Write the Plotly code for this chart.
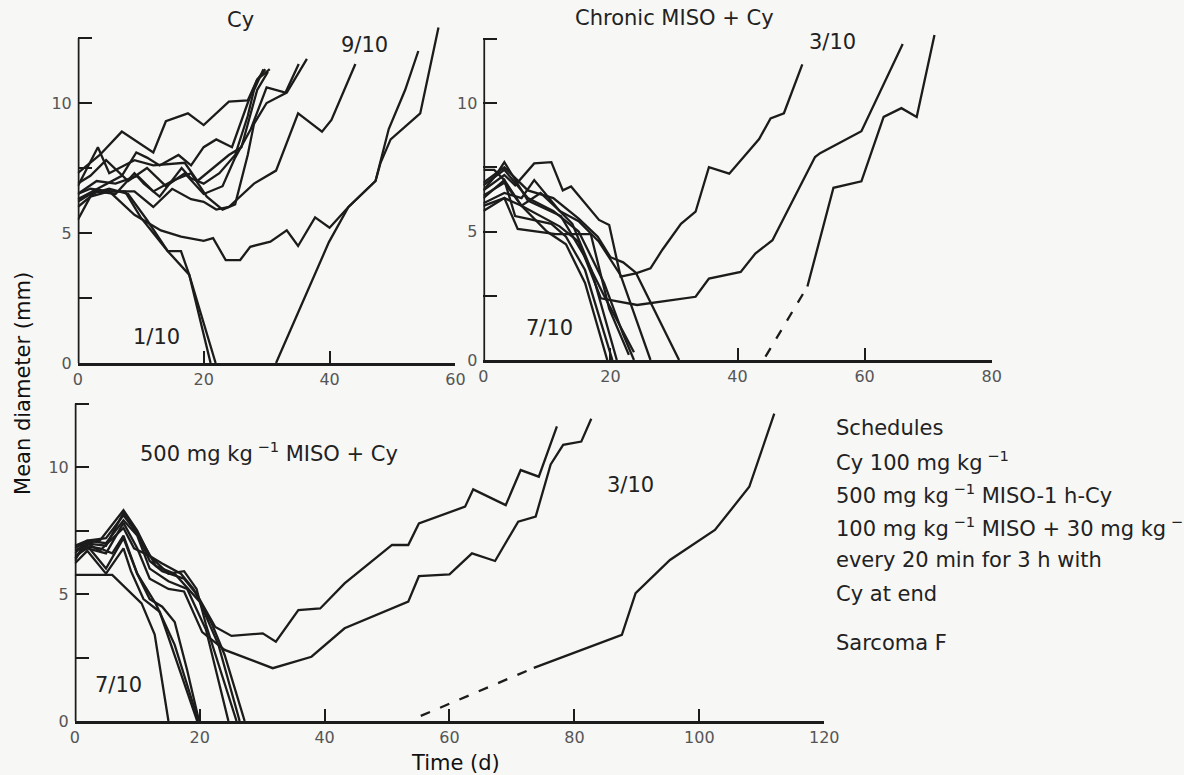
import plotly.graph_objects as go

# reference coordinate frame (positions below are given in this frame)
W, H = 1184, 775
# the capture shrinks the page slightly; render the figure at a matching larger size
FIG_W, FIG_H = 1200, 785

# ---------------- data (days, mean diameter mm) ----------------
# Panel 1: Cy alone
cy_x = [
    [0, 3.5, 7, 12, 14, 17.5, 20, 24, 27, 28.5, 29.8],
    [0, 3.2, 5, 9, 12, 17, 19, 21, 24, 26, 28.5, 30.2],
    [0, 4, 7, 9.3, 11, 13, 16, 18, 20, 22, 24.5, 27, 28.5, 30.5],
    [0, 3, 6, 9, 10.5, 13, 16.5, 18, 20, 22.5, 25, 27, 28, 29.5],
    [0, 3, 6, 9, 12, 15, 18, 20, 22, 24, 28, 31.5, 35, 38.8, 40.3, 44.1],
    [0, 2, 5, 9, 13.2, 16.4, 20, 21.5, 23.5, 25.8, 27.4, 30.6, 33.2, 35, 37.7, 40, 43, 47.3, 49.4, 52, 54.1],
    [0, 2, 5, 8, 11, 14.3, 16.4, 17.7, 21.9],
    [31.5, 39.9, 43, 47.3, 48.1, 49.7, 54.4, 57.3],
    [0, 2, 5, 7.5, 10, 14.3, 17.7, 21.1],
    [0, 2, 4.5, 8, 11, 14, 17, 20, 23, 25, 27.5, 30, 33, 35.1],
    [0, 3, 6, 9.5, 12, 15, 18, 20.5, 23, 25, 27, 28, 30, 33.2, 36.4],
]
cy_y = [
    [7.3, 8.0, 8.9, 8.1, 9.3, 9.6, 9.15, 10.05, 10.1, 10.9, 11.3],
    [6.8, 8.3, 7.3, 7.8, 7.6, 7.7, 7.0, 7.4, 8.0, 8.3, 10.5, 11.2],
    [6.3, 6.8, 7.2, 8.1, 7.9, 7.6, 8.0, 7.6, 8.3, 8.6, 8.3, 10.0, 10.9, 11.3],
    [6.0, 6.6, 6.5, 7.3, 6.9, 6.4, 7.5, 7.1, 6.9, 7.3, 8.0, 9.5, 10.5, 11.3],
    [6.3, 6.6, 6.6, 6.6, 6.0, 6.7, 6.3, 6.2, 5.9, 6.0, 6.9, 7.4, 9.6, 8.9, 9.35, 11.5],
    [6.5, 6.7, 6.6, 5.7, 5.1, 4.86, 4.7, 4.8, 3.96, 3.96, 4.47, 4.67, 5.1, 4.5, 5.6, 5.2, 6.0, 7.0, 9.0, 10.5, 12.0],
    [6.2, 6.5, 6.7, 6.5, 5.5, 4.3, 4.3, 3.4, 0],
    [0, 4.65, 6.0, 7.0, 7.7, 8.6, 9.6, 12.9],
    [5.5, 6.4, 6.6, 6.6, 5.6, 4.3, 3.4, 0],
    [6.9, 7.2, 7.8, 7.0, 7.5, 6.8, 7.3, 6.5, 6.8, 7.9, 9.0, 10.6, 10.4, 11.5],
    [6.5, 7.0, 6.9, 7.2, 6.6, 7.0, 7.3, 6.4, 5.9, 6.1, 8.0, 9.2, 10.0, 10.4, 11.7],
]

# Panel 2: chronic MISO + Cy
chr_x = [
    [0, 3.3, 5, 8, 10.7, 12.5, 13.8, 18.2, 19.8, 21.6, 24, 26.3, 28.2, 31.1, 33.4, 35.5, 38.7, 43.4, 45.2, 47.3, 50.2],
    [0, 3.3, 6, 9, 12, 15, 18.5, 24.2, 28.2, 33.4, 35.5, 40.5, 42.8, 45.5, 52.2, 53, 59.5, 66],
    [0, 3.3, 7, 11, 15, 19, 22, 23.7],
    [51, 55.1, 59.5, 63, 65.8, 68.2, 71],
    [0, 1.7, 3.3, 6, 10, 13, 16, 19.5],
    [0, 3.3, 5, 10.7, 13, 16, 20.3],
    [0, 3.3, 5.4, 11.4, 16.9, 19.8, 22.9],
    [0, 2, 3.3, 7, 12.2, 16, 19, 23.7],
    [0, 3.3, 6, 8, 12, 15, 18.2, 21.6, 26.3],
    [0, 3.3, 7, 11, 15, 18, 20, 22, 24, 30.8],
    [0, 3.3, 6, 9, 12, 14, 17, 19, 21],
]
chr_y = [
    [6.6, 7.2, 6.8, 7.65, 7.7, 6.6, 6.75, 5.45, 5.25, 3.24, 3.37, 3.57, 4.3, 5.3, 5.77, 7.5, 7.25, 8.6, 9.4, 9.6, 11.5],
    [6.0, 6.3, 6.0, 5.6, 5.2, 4.6, 2.4, 2.14, 2.27, 2.46, 3.17, 3.43, 4.14, 4.66, 7.9, 8.05, 8.9, 12.3],
    [6.8, 7.4, 6.3, 5.8, 5.0, 3.0, 1.0, 0],
    [2.86, 6.7, 6.95, 9.46, 9.8, 9.46, 12.65],
    [7.4, 7.4, 7.0, 6.0, 5.0, 4.5, 3.0, 0],
    [6.3, 7.0, 5.6, 5.3, 4.8, 3.5, 0],
    [5.8, 6.3, 5.1, 4.9, 4.9, 2.0, 0.2],
    [6.6, 7.2, 7.7, 6.2, 5.6, 4.0, 2.5, 0.3],
    [6.1, 6.5, 6.3, 7.0, 5.8, 5.4, 4.6, 3.3, 0],
    [6.9, 7.5, 6.6, 6.3, 5.5, 4.8, 4.0, 3.8, 3.4, 0],
    [6.4, 6.9, 6.0, 6.5, 5.8, 5.3, 3.5, 1.8, 0],
]
chr_dash_x = [44.4, 51]
chr_dash_y = [0.13, 2.86]

# Panel 3: 500 mg/kg MISO + Cy
mis_x = [
    [0, 6, 10.7, 12.8, 15],
    [0, 1.5, 4, 7.8, 10, 12, 14, 17, 19, 22, 24, 27.2],
    [0, 1.5, 5, 7.8, 10, 12, 14, 17.5, 19.5, 22.5, 25.1, 30.1, 32.2, 35.8, 39.3, 43.2, 50.8, 53.4, 55.1, 62.5, 63.8, 69, 71.4, 74.3, 77.2],
    [0, 2, 5, 7.8, 10, 12, 15, 17.5, 20.4, 24, 31.7, 37.9, 43.2, 53.4, 55.1, 60, 63.6, 67.3, 71, 73.8, 76.2, 78.2, 81.1, 82.7],
    [0, 2, 5, 7.8, 10, 13, 16, 19.8],
    [73.5, 84.3, 87.6, 89.8, 95.3, 102.5, 108, 112],
    [0, 2, 5, 7.8, 9, 11, 13.6, 15, 19.6],
    [0, 1.5, 4, 6, 7.8, 10, 12, 14, 16, 18, 19.9],
    [0, 2, 5, 7.8, 10, 12, 15, 18, 21, 24.6],
    [0, 2, 4, 7.8, 9.5, 12, 15, 17.5, 19.5, 21, 25.9],
    [0, 2, 5, 7.8, 10.5, 13, 16, 20, 23, 26.4],
]
mis_y = [
    [5.75, 5.75, 4.63, 3.4, 0],
    [6.6, 7.0, 7.1, 8.3, 7.5, 6.5, 6.2, 5.8, 5.2, 3.8, 2.6, 0],
    [6.3, 7.0, 6.9, 8.2, 7.4, 6.3, 5.9, 5.6, 5.0, 3.7, 3.35, 3.45, 3.12, 4.37, 4.43, 5.42, 6.93, 6.93, 7.78, 8.44, 9.12, 8.5, 9.88, 9.62, 11.6],
    [6.5, 6.8, 6.6, 7.8, 6.8, 5.6, 5.2, 5.1, 3.5, 2.8, 2.08, 2.53, 3.65, 4.7, 5.7, 5.77, 6.6, 6.3, 7.85, 8.05, 10.1, 10.87, 11.0, 11.9],
    [6.4, 6.9, 6.0, 7.2, 5.8, 4.6, 3.0, 0],
    [2.09, 3.07, 3.39, 5.03, 6.34, 7.52, 9.22, 12.1],
    [6.2, 6.7, 5.8, 6.8, 5.9, 4.8, 4.3, 3.3, 0],
    [6.7, 6.9, 6.8, 6.6, 7.3, 5.8, 4.8, 4.5, 3.9, 2.0, 0],
    [6.8, 7.1, 7.0, 7.9, 7.3, 6.0, 5.5, 5.2, 3.6, 0],
    [6.4, 7.0, 6.7, 7.6, 6.8, 6.5, 5.8, 5.9, 5.2, 3.8, 0],
    [6.9, 7.1, 7.2, 8.1, 7.2, 6.1, 5.8, 4.7, 3.0, 0],
]
mis_dash_x = [55.4, 73.5]
mis_dash_y = [0.2, 2.09]

y_major = [0, 5, 10]
y_minor = [2.5, 7.5, 12.5]
x_ticks_cy = [0, 20, 40, 60]
x_ticks_chr = [0, 20, 40, 60, 80]
x_ticks_mis = [0, 20, 40, 60, 80, 100, 120]

# ---------------- styling ----------------
BG = "#f7f7f5"
INK = "#1c1c1c"
FONT = "DejaVu Sans, Liberation Sans, Arial, sans-serif"
LW = 2.3


def px(x):
    return x / W


def py(y):
    return 1 - y / H


fig = go.Figure()


def add_lines(xs, ys, ax):
    for xv, yv in zip(xs, ys):
        fig.add_trace(go.Scatter(x=xv, y=yv, mode="lines", xaxis=ax[0], yaxis=ax[1],
                                 line=dict(color=INK, width=LW), hoverinfo="skip",
                                 showlegend=False))


add_lines(cy_x, cy_y, ("x", "y"))
add_lines(chr_x, chr_y, ("x2", "y2"))
add_lines(mis_x, mis_y, ("x3", "y3"))
for xv, yv, ax in [(chr_dash_x, chr_dash_y, ("x2", "y2")), (mis_dash_x, mis_dash_y, ("x3", "y3"))]:
    fig.add_trace(go.Scatter(x=xv, y=yv, mode="lines", xaxis=ax[0], yaxis=ax[1],
                             line=dict(color=INK, width=LW, dash="10px,11px"),
                             hoverinfo="skip", showlegend=False))

YMAX = 13.0
TICKFONT = dict(family=FONT, size=16, color="#555")


def xax(dom, rng, ticks):
    return dict(domain=dom, range=rng, tickvals=ticks, showline=True, linewidth=3,
                linecolor=INK, ticks="inside", ticklen=12, tickwidth=2.2, tickcolor=INK,
                showgrid=False, zeroline=False, tickfont=TICKFONT, fixedrange=True)


def yax(dom, anchor):
    return dict(domain=dom, range=[0, YMAX], tickvals=y_major,
                showline=False, ticks="inside", ticklen=14, tickwidth=2.2, tickcolor=INK,
                minor=dict(tickvals=y_minor, ticks="inside", ticklen=14, tickwidth=2.2,
                           tickcolor=INK, showgrid=False),
                showgrid=False, zeroline=False, anchor=anchor,
                tickfont=TICKFONT, ticklabelstandoff=5, fixedrange=True)


# panel pixel geometry (reference frame)
fig.update_layout(
    xaxis=xax([px(73), px(452)], [0, 60], x_ticks_cy) | dict(anchor="y"),
    yaxis=yax([py(363), py(363 - 26 * YMAX)], "x"),
    xaxis2=xax([px(480), px(990)], [0, 80], x_ticks_chr) | dict(anchor="y2"),
    yaxis2=yax([py(360), py(360 - 25.7 * YMAX)], "x2"),
    xaxis3=xax([px(70), px(822)], [0, 120], x_ticks_mis) | dict(anchor="y3"),
    yaxis3=yax([py(721), py(721 - 25.4 * YMAX)], "x3"),
)

# vertical axis lines (0 to 12.5)
for xr, yr in [("x", "y"), ("x2", "y2"), ("x3", "y3")]:
    fig.add_shape(type="line", xref=xr, yref=yr, x0=0, x1=0, y0=0, y1=12.5,
                  line=dict(color=INK, width=3.5), layer="above")

ann = []


def text(x, y, s, size=21, xanchor="center", angle=0, color="#222"):
    ann.append(dict(x=px(x), y=py(y), xref="paper", yref="paper", text=s, showarrow=False,
                    xanchor=xanchor, yanchor="middle", textangle=angle,
                    font=dict(family=FONT, size=size, color=color)))


SUP = "<sup> −1</sup>"
text(236, 20, "Cy")
text(361, 45, "9/10")
text(152, 337, "1/10")
text(672, 18, "Chronic MISO + Cy")
text(830, 42, "3/10")
text(546, 328, "7/10")
text(133, 452, "500 mg kg" + SUP + " MISO + Cy", xanchor="left")
text(114, 685, "7/10")
text(628, 485, "3/10")
text(18, 383, "Mean diameter (mm)", angle=-90, color="#111")
text(452, 763, "Time (d)", color="#111")

sched = [
    (428, "Schedules"),
    (461, "Cy 100 mg kg" + SUP),
    (494, "500 mg kg" + SUP + " MISO-1 h-Cy"),
    (527, "100 mg kg" + SUP + " MISO + 30 mg kg" + SUP),
    (560, "every 20 min for 3 h with"),
    (594, "Cy at end"),
    (643, "Sarcoma F"),
]
for yy, s in sched:
    text(832, yy, s, size=21, xanchor="left")

fig.update_layout(
    annotations=ann,
    width=FIG_W, height=FIG_H,
    margin=dict(l=0, r=0, t=0, b=0),
    paper_bgcolor=BG, plot_bgcolor=BG,
    showlegend=False,
)

POST = (
    "document.documentElement.style.margin='0';"
    "document.body.style.margin='0';"
    "document.documentElement.style.overflow='hidden';"
    "document.body.style.overflow='hidden';"
    "document.body.style.background='" + BG + "';"
    "var d=document.querySelector('.plotly-graph-div');"
    "if(d){d.style.position='fixed';d.style.left='0px';d.style.top='0px';}"
)
fig.write_html("out.html", config={"displayModeBar": False}, post_script=POST)
